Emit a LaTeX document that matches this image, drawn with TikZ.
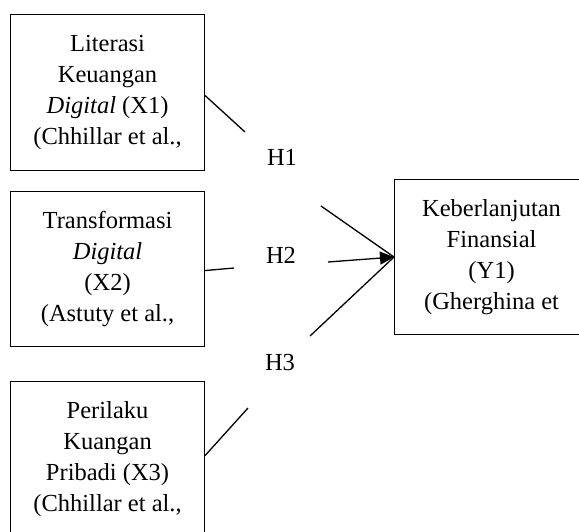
\documentclass[tikz,border=0pt]{standalone}
\usepackage{fontspec}
\setmainfont{Liberation Serif}
\usetikzlibrary{arrows.meta}
\begin{document}
\begin{tikzpicture}[x=1bp,y=-1bp,
  box/.style={draw, line width=1.1bp, minimum width=194bp, minimum height=155bp,
    inner sep=0pt, align=center, anchor=north west,
    font=\fontsize{24.5bp}{31bp}\selectfont},
  hyp/.style={inner sep=0pt, anchor=base, font=\fontsize{24.5bp}{29bp}\selectfont},
  link/.style={line width=1.3bp},
  tip/.style={-{Triangle[length=14bp,width=13bp]}}]
\useasboundingbox (0,0) rectangle (579,532);
\clip (0,0) rectangle (579,532);
\node[box, minimum height=156bp] (x1) at (10,14)
  {Literasi\\Keuangan\\\textit{Digital} (X1)\\(Chhillar et al.,};
\node[box] (x2) at (10,191)
  {Transformasi\\\textit{Digital}\\(X2)\\(Astuty et al.,};
\node[box] (x3) at (10,381)
  {Perilaku\\Kuangan\\Pribadi (X3)\\(Chhillar et al.,};
\node[box] (y1) at (394,179)
  {Keberlanjutan\\Finansial\\(Y1)\\(Gherghina et};
\node[hyp] (h1) at (282,166) {H1};
\node[hyp] (h2) at (281,263) {H2};
\node[hyp] (h3) at (280,370) {H3};
\coordinate (a1) at (245,132);
\coordinate (b1) at (321,206);
\coordinate (a2) at (234,268);
\coordinate (b2) at (328,262);
\coordinate (a3) at (248,408);
\coordinate (b3) at (310,336);
\draw[link] ([yshift=-3bp]x1.east) -- (a1);
\draw[link] (b1) -- (y1.west);
\draw[link] ([yshift=-1.5bp]x2.east) -- (a2);
\draw[link] ([yshift=3.5bp]x3.east) -- (a3);
\draw[link] (b3) -- (y1.west);
\draw[link, tip] (b2) -- (y1.west);
\end{tikzpicture}
\end{document}
